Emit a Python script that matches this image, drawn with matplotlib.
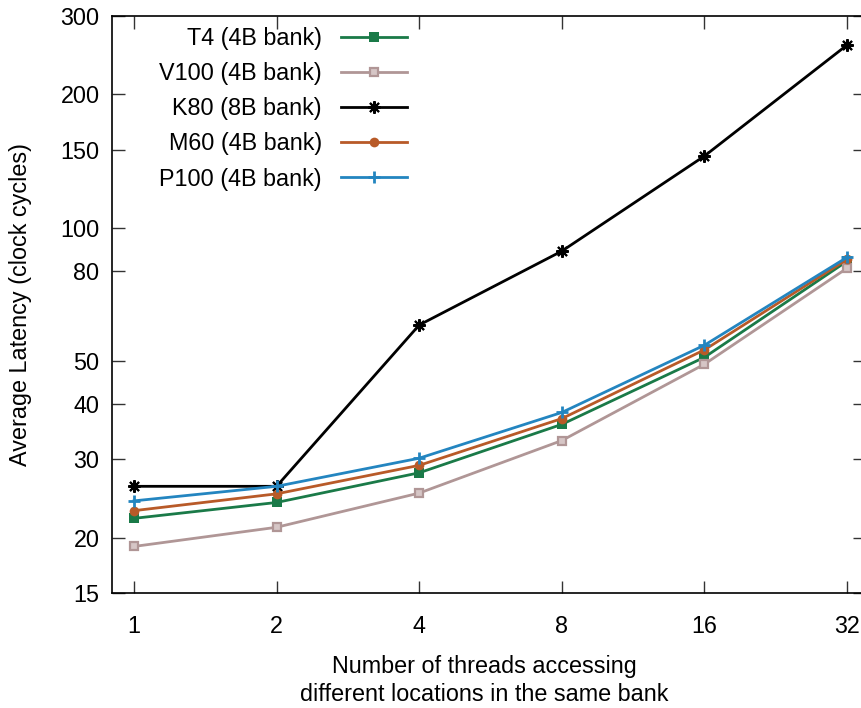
import matplotlib
matplotlib.use("Agg")
import matplotlib.pyplot as plt
from matplotlib.ticker import FixedLocator, FixedFormatter, NullLocator

plt.rcParams['font.family'] = ['Liberation Sans', 'DejaVu Sans']

threads = [1, 2, 4, 8, 16, 32]
t4 = [22.1, 24.0, 28.0, 36.0, 51.0, 84.0]
v100 = [19.1, 21.1, 25.2, 33.1, 49.2, 81.0]
k80 = [26.1, 26.1, 60.3, 88.5, 145.0, 258.0]
m60 = [23.0, 25.1, 29.1, 37.1, 53.0, 84.8]
p100 = [24.2, 26.1, 30.2, 38.3, 54.3, 85.7]

yticks = [15, 20, 30, 40, 50, 80, 100, 150, 200, 300]

FS = 16.8
W, H = 861, 708
fig = plt.figure(figsize=(W / 100, H / 100), dpi=100)
# axes box in pixels: left 112, right ~865 (cropped), top 16, bottom 593
ax = fig.add_axes([112 / W, (H - 593) / H, (865 - 112) / W, (593 - 16) / H])

series = [
    ("T4 (4B bank)", t4, "#1a7a48", dict(marker="s", markersize=6.5, markerfacecolor="#1a7a48", markeredgewidth=0)),
    ("V100 (4B bank)", v100, "#b09696", dict(marker="s", markersize=6, markerfacecolor="#d6c6c6", markeredgecolor="#b09696", markeredgewidth=1.6)),
    ("K80 (8B bank)", k80, "black", dict(marker=(8, 2, 0), markersize=9, markeredgewidth=1.5)),
    ("M60 (4B bank)", m60, "#b85a28", dict(marker="o", markersize=7, markeredgewidth=0)),
    ("P100 (4B bank)", p100, "#2385c0", dict(marker="+", markersize=8, markeredgewidth=2)),
]

for label, vals, color, mk in series:
    ax.plot(threads, vals, color=color, lw=2, label=label, **mk)

ax.set_xscale("log", base=2)
ax.set_yscale("log")
ax.set_xlim(2 ** -0.154, 32 * 2 ** 0.126)
ax.set_ylim(15, 300)

ax.xaxis.set_major_locator(FixedLocator(threads))
ax.xaxis.set_major_formatter(FixedFormatter([str(t) for t in threads]))
ax.xaxis.set_minor_locator(NullLocator())
ax.yaxis.set_major_locator(FixedLocator(yticks))
ax.yaxis.set_major_formatter(FixedFormatter([str(t) for t in yticks]))
ax.yaxis.set_minor_locator(NullLocator())

ax.tick_params(which="major", direction="in", length=9, width=1, top=True, right=True,
               labelsize=FS, color="#333333")
ax.tick_params(axis="x", pad=16)
ax.tick_params(axis="y", pad=9)
for s in ax.spines.values():
    s.set_linewidth(1.2)

ax.set_ylabel("Average Latency (clock cycles)", fontsize=FS, labelpad=20)
ax.set_xlabel("Number of threads accessing\ndifferent locations in the same bank",
              fontsize=FS, linespacing=1.25)
ax.xaxis.set_label_coords((484 - 112) / (865 - 112), -0.108, transform=ax.transAxes)
ax.xaxis.label.set_va("top")

ax.legend(loc="upper right", bbox_to_anchor=(407 / W, 1 - 27 / H), bbox_transform=fig.transFigure,
          frameon=False, markerfirst=False, fontsize=FS, handlelength=2.85, handletextpad=0.8,
          borderpad=0, borderaxespad=0, labelspacing=0.52)

fig.savefig("out.png", dpi=100)
